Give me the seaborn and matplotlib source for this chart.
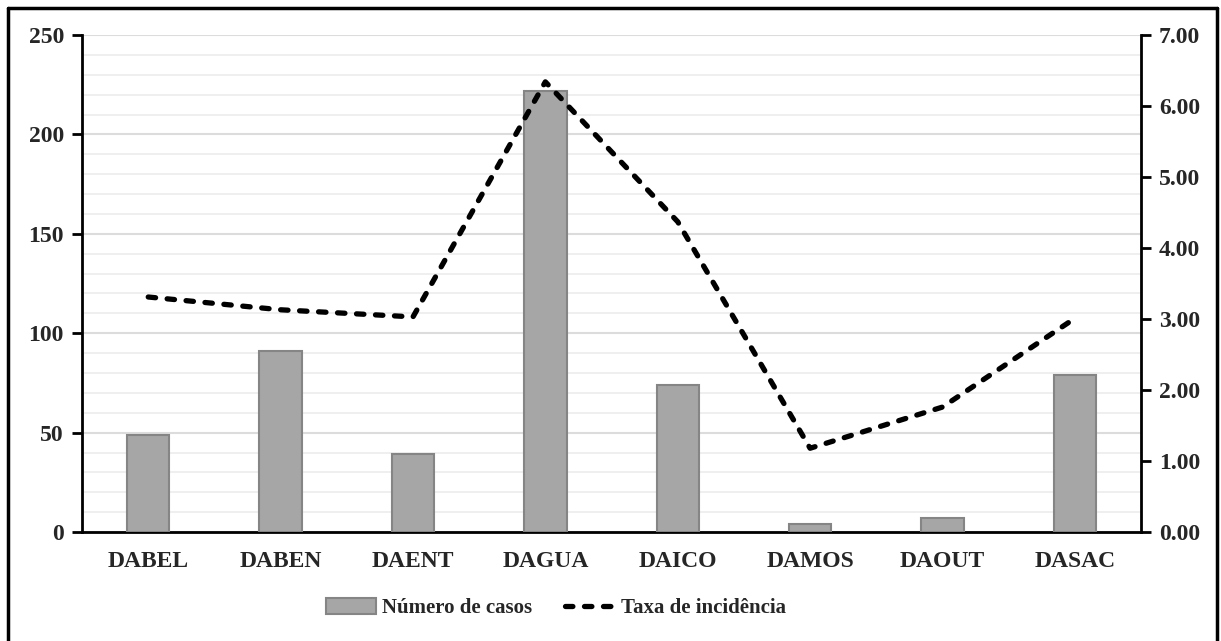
import matplotlib
matplotlib.use("Agg")
import matplotlib.pyplot as plt
from matplotlib.lines import Line2D
from matplotlib.patches import Patch
from matplotlib.ticker import MultipleLocator, FixedLocator, FormatStrFormatter
import seaborn as sns
import pandas as pd
import numpy as np

categorias = ["DABEL", "DABEN", "DAENT", "DAGUA", "DAICO", "DAMOS", "DAOUT", "DASAC"]
numero_casos = [49, 91, 39, 222, 74, 4, 7, 79]
taxa_incidencia = [3.31, 3.13, 3.03, 6.34, 4.37, 1.18, 1.76, 3.01]

df = pd.DataFrame({"cat": categorias, "casos": numero_casos, "taxa": taxa_incidencia})

sns.set_theme(style="white")
plt.rcParams["font.family"] = ["Liberation Serif", "DejaVu Serif"]
plt.rcParams["font.weight"] = "bold"

fig = plt.figure(figsize=(12.21, 6.41), dpi=100)
ax = fig.add_axes([0.0672, 0.170, 0.9345 - 0.0672, 0.9454 - 0.170])

bar_color = "#a6a6a6"
edge_color = "#858585"
sns.barplot(data=df, x="cat", y="casos", color=bar_color, width=0.32,
            edgecolor=edge_color, linewidth=1.5, saturation=1, ax=ax, zorder=3)

ax.set_ylim(0, 250)
ax.set_xlim(-0.5, len(categorias) - 0.5)
ax.yaxis.set_major_locator(MultipleLocator(50))
ax.yaxis.set_minor_locator(MultipleLocator(10))
ax.grid(which="minor", axis="y", color="#eeeeee", linewidth=1.3, zorder=0)
ax.grid(which="major", axis="y", color="#dcdcdc", linewidth=1.5, zorder=0)
ax.set_axisbelow(True)
ax.set_xlabel("")
ax.set_ylabel("")

# category boundary ticks on the x axis
ax.xaxis.set_major_locator(FixedLocator(np.arange(len(categorias))))
ax.set_xticklabels(categorias)
ax.xaxis.set_minor_locator(FixedLocator(np.arange(-0.5, len(categorias), 1.0)))
ax.tick_params(axis="x", which="major", length=0, pad=14, labelsize=17)
ax.tick_params(axis="x", which="minor", length=7, width=2, color="black", direction="out")
ax.tick_params(axis="y", which="major", length=7, width=2, color="black",
               direction="out", labelsize=17, pad=6)
ax.tick_params(axis="y", which="minor", length=0)
for lab in ax.get_xticklabels() + ax.get_yticklabels():
    lab.set_fontweight("bold")

for side in ["top", "right"]:
    ax.spines[side].set_visible(False)
for side in ["left", "bottom"]:
    ax.spines[side].set_color("black")
    ax.spines[side].set_linewidth(2)

line_dashes = [1.4, 2.2]
ax2 = ax.twinx()
sns.lineplot(x=np.arange(len(categorias)), y=df["taxa"].values, color="black",
             linewidth=3.8, ax=ax2, zorder=5)
ax2.lines[0].set_dashes(line_dashes)
ax2.lines[0].set_dash_capstyle("round")
ax2.set_ylim(0, 7)
ax2.set_xlim(-0.5, len(categorias) - 0.5)
ax2.yaxis.set_major_locator(MultipleLocator(1))
ax2.yaxis.set_major_formatter(FormatStrFormatter("%.2f"))
ax2.tick_params(axis="y", length=7, width=2, color="black", direction="out",
                labelsize=17, pad=6)
for lab in ax2.get_yticklabels():
    lab.set_fontweight("bold")
for side in ["top", "left", "bottom"]:
    ax2.spines[side].set_visible(False)
ax2.spines["right"].set_color("black")
ax2.spines["right"].set_linewidth(2)
ax2.grid(False)
ax2.set_ylabel("")

handles = [
    Patch(facecolor=bar_color, edgecolor=edge_color, linewidth=1.5, label="Número de casos"),
    Line2D([0], [0], color="black", linewidth=3.8, dashes=line_dashes,
           dash_capstyle="round", label="Taxa de incidência"),
]
fig.legend(handles=handles, loc="center", bbox_to_anchor=(556 / 1221, 1 - 608 / 641), ncol=2,
           frameon=False, prop={"family": "Liberation Serif", "weight": "bold", "size": 15},
           handlelength=2.4, handleheight=0.8, handletextpad=0.3, columnspacing=1.6)

# outer frame
for xs, ys in [([8 / 1221, 8 / 1221], [0, 1 - 8 / 641]),
               ([8 / 1221, 1217 / 1221], [1 - 8 / 641, 1 - 8 / 641]),
               ([1217 / 1221, 1217 / 1221], [1 - 8 / 641, 0])]:
    fig.add_artist(Line2D(xs, ys, color="black", linewidth=2.5, transform=fig.transFigure))

fig.savefig("out.png", dpi=100, facecolor="white")
